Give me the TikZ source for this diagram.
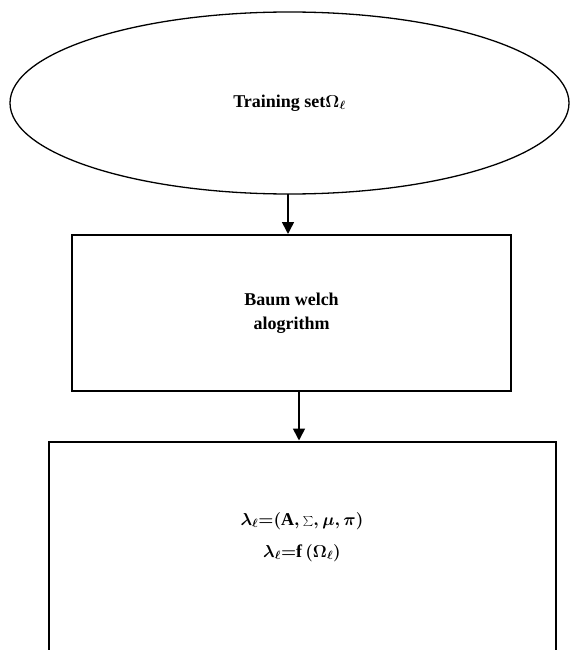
\documentclass[tikz,border=0pt]{standalone}
\usepackage{fontspec}
\setmainfont{Liberation Serif}
\usetikzlibrary{shapes.geometric,arrows.meta}

\begin{document}
\begin{tikzpicture}[x=1pt,y=1pt,line width=1.3pt,
    every node/.style={font=\fontsize{18}{24}\selectfont\bfseries\boldmath},
    stepbox/.style={draw,line width=2pt,rectangle,inner sep=0pt},
    flow/.style={-{Triangle[length=12pt,width=12pt]},line width=1.6pt}]
        \clip (0,0) rectangle (571,-650);
        \pgfmathsetmacro{\w}{439}
        \pgfmathsetmacro{\h}{156}

        \node[draw,ellipse,minimum width=559,minimum height=182] (E) at (289.5,-103) {Training set$\Omega_\ell$};

        \node[stepbox,minimum width=\w,minimum height=\h,align=center] (B) at (291.5,-313) {Baum welch\\alogrithm};

        \node[stepbox,minimum width=507,minimum height=300,anchor=north] (R) at (302,-440.5) {};
        \node[align=center] (L) at (302,-537) {$\lambda_\ell{=}(\mathrm{A},{\textstyle\sum},\mu,\pi)$\\[8pt]$\lambda_\ell{=}\mathrm{f}\,(\Omega_\ell)$};

        \draw[flow] (288,-194) coordinate (e0) -- (e0 |- B.north);
        \draw[flow] (299,-391) coordinate (b0) -- (b0 |- R.north);
      \end{tikzpicture}
\end{document}
